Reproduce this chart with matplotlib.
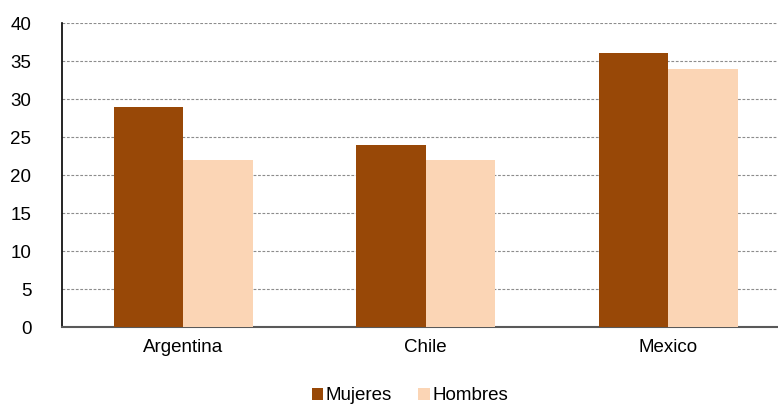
import numpy as np
import matplotlib.pyplot as plt

plt.rcParams['font.family'] = ['Liberation Sans', 'DejaVu Sans']

countries = ['Argentina', 'Chile', 'Mexico']
mujeres = [29, 24, 36]
hombres = [22, 22, 34]
yticks = [0, 5, 10, 15, 20, 25, 30, 35, 40]

fig = plt.figure(figsize=(7.78, 4.04), dpi=100)
ax = fig.add_axes([62 / 778, 1 - 327 / 404, 1 - 62 / 778, (327 - 23) / 404])

x = np.arange(len(countries))
w = 0.287
ax.bar(x - w / 2, mujeres, w, color='#984807', label='Mujeres', zorder=3)
ax.bar(x + w / 2, hombres, w, color='#FBD5B5', label='Hombres', zorder=3)

ax.set_xlim(-0.5, 2.453)
ax.set_ylim(0, 40)
ax.set_yticks(yticks)
ax.set_xticks(x)
ax.set_xticklabels(countries)
ax.tick_params(axis='both', length=0, labelsize=13.5, colors='black')
ax.tick_params(axis='y', pad=22)
ax.tick_params(axis='x', pad=9)
ax.yaxis.grid(True, linestyle=(0, (2.5, 1.5)), color='#8c8c8c', linewidth=0.8)
ax.set_axisbelow(True)

for s in ['top', 'right']:
    ax.spines[s].set_visible(False)
ax.spines['left'].set_color('black')
ax.spines['left'].set_linewidth(1.2)
ax.spines['bottom'].set_color('#595959')
ax.spines['bottom'].set_linewidth(1.5)

fig.legend(loc='center', bbox_to_anchor=(410 / 778, 1 - 396 / 404), ncol=2,
           frameon=False, fontsize=13.5, handlelength=0.6, handleheight=0.6,
           handletextpad=0.15, columnspacing=1.4)

fig.savefig('out.png', dpi=100)
